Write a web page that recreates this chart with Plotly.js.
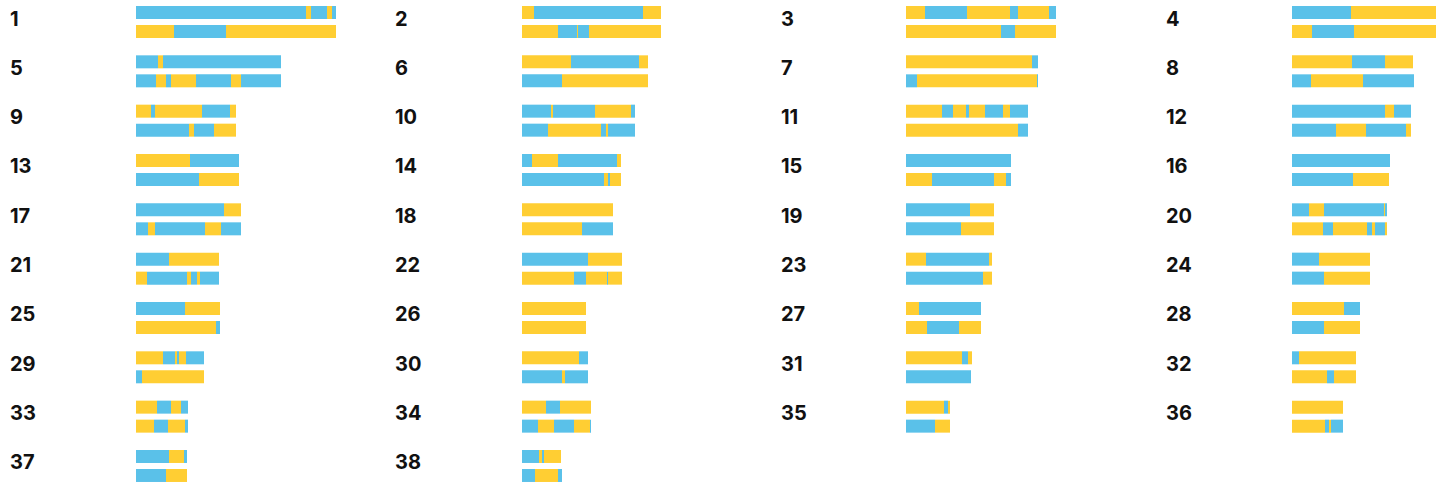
<!DOCTYPE html>
<html>
<head>
<meta charset="utf-8">
<script src="https://cdn.plot.ly/plotly-3.0.1.min.js"></script>
<style>html,body{margin:0;padding:0;background:#fff;}#chart{width:1444px;height:482px;}</style>
</head>
<body>
<div id="chart"></div>
<script>
// Panel labels (row-major, 4 columns)
const panelIds = Array.from({length: 38}, (_, i) => i + 1);

// First colour of each bar ('B' = blue, 'Y' = yellow); segments alternate colour
const topStart = ['B','Y','Y','B','B','Y','Y','Y','Y','B','Y','B','Y','B','B','B','B','Y','B','B',
                  'B','B','Y','B','B','Y','Y','Y','Y','Y','Y','B','Y','Y','Y','Y','B','B'];
const bottomStart = ['Y','Y','Y','Y','B','B','B','B','B','B','Y','B','B','B','Y','B','B','Y','B','Y',
                     'Y','Y','B','B','Y','Y','Y','B','B','B','B','Y','Y','B','B','Y','B','B'];

// Segment lengths for the upper bar of each panel
const topSegments = [
  [170,5,16,5,4], [12,109,18], [19,42,43,8,31,7], [59,85],
  [22,5,118], [49,68,9], [126,6], [60,33,28],
  [15,4,47,28,6], [29,2,42,36,4], [36,11,13,3,16,18,7,18], [93,9,17],
  [54,49], [10,26,59,4], [105], [98],
  [88,17], [91], [64,24], [17,15,60,1,2],
  [33,50], [66,34], [20,63,3], [27,51],
  [49,35], [64], [13,62], [52,16],
  [27,12,2,2,7,18], [57,9], [56,6,4], [7,57],
  [21,14,10,7], [24,14,31], [38,4,2], [51],
  [33,15,3], [17,3,2,17]
];

// Segment lengths for the lower bar of each panel
const bottomSegments = [
  [38,52,110], [36,19,1,11,72], [95,14,41], [20,42,82],
  [20,10,5,25,35,10,40], [40,86], [11,120,1], [19,52,51],
  [53,5,20,22], [26,53,5,2,27], [112,10], [44,30,40,5],
  [63,40], [82,4,2,11], [26,62,12,5], [61,36],
  [12,7,50,16,20], [60,31], [55,33], [31,10,34,5,3,10,2],
  [11,40,4,6,3,19], [52,12,21,1,14], [77,9], [32,46],
  [80,4], [64], [21,32,22], [32,36],
  [6,62], [40,3,23], [65], [35,7,22],
  [18,14,17,3], [16,16,20,16,1], [29,15], [33,4,2,12],
  [30,21], [13,23,4]
];

const COLORS = {B: '#5AC1E9', Y: '#FFCE33'};
const W = 1444, H = 482;
const colLeftPx = [136, 522, 906, 1292];
const colWidthPx = [210, 150, 160, 150];
const labelLeftPx = [7.5, 393.5, 778.5, 1163.5];
const rowPitch = 49.33;
const firstCenter = 12.5;   // px centre of first top bar
const barGapRows = 19 / rowPitch;
const barWidthRows = 13 / rowPitch;

// Build traces: one per colour per column
const traceData = {};
for (let c = 0; c < 4; c++) {
  for (const col of ['B','Y']) traceData[c + col] = {x: [], base: [], y: []};
}
function addBar(panelIdx, startColor, segs, yPos) {
  const c = panelIdx % 4;
  let pos = 0;
  let col = startColor;
  segs.forEach(len => {
    const t = traceData[c + col];
    t.x.push(len); t.base.push(pos); t.y.push(yPos);
    pos += len;
    col = col === 'B' ? 'Y' : 'B';
  });
}
panelIds.forEach((id, i) => {
  const r = Math.floor(i / 4);
  addBar(i, topStart[i], topSegments[i], r);
  addBar(i, bottomStart[i], bottomSegments[i], r + barGapRows);
});

const traces = [];
for (let c = 0; c < 4; c++) {
  for (const col of ['B','Y']) {
    const t = traceData[c + col];
    traces.push({
      type: 'bar', orientation: 'h',
      x: t.x, base: t.base, y: t.y,
      width: barWidthRows,
      marker: {color: COLORS[col], line: {width: 0}},
      xaxis: c === 0 ? 'x' : 'x' + (c + 1), yaxis: 'y',
      hoverinfo: 'skip', showlegend: false
    });
  }
}

const yTop = -firstCenter / rowPitch;
const yBottom = (H - firstCenter) / rowPitch;

const layout = {
  width: W, height: H,
  margin: {l: 0, r: 0, t: 0, b: 0, pad: 0},
  paper_bgcolor: '#fff', plot_bgcolor: '#fff',
  barmode: 'overlay',
  showlegend: false,
  yaxis: {range: [yBottom, yTop], autorange: false, visible: false, showgrid: false, zeroline: false, domain: [0, 1]},
  annotations: panelIds.map((id, i) => ({
    text: String(id),
    xref: 'paper', yref: 'y',
    x: labelLeftPx[i % 4] / W, xanchor: 'left',
    y: Math.floor(i / 4) + 6 / rowPitch, yanchor: 'middle',
    showarrow: false,
    font: {family: 'Inter, "DejaVu Sans", sans-serif', size: 20, color: '#111111', weight: 700}
  }))
};
for (let c = 0; c < 4; c++) {
  const key = c === 0 ? 'xaxis' : 'xaxis' + (c + 1);
  layout[key] = {
    domain: [colLeftPx[c] / W, (colLeftPx[c] + colWidthPx[c]) / W],
    range: [0, colWidthPx[c]], autorange: false,
    anchor: 'y', visible: false, showgrid: false, zeroline: false
  };
}

Plotly.newPlot('chart', traces, layout, {displayModeBar: false, staticPlot: true});
</script>
</body>
</html>
